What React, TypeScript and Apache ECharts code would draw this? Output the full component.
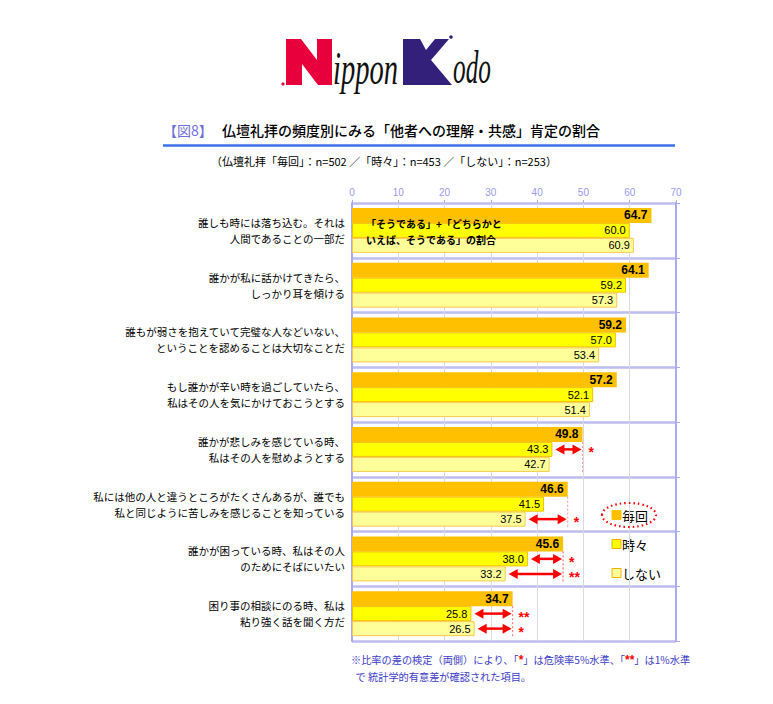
import React, { useEffect, useRef } from "react";
import * as echarts from "echarts";

const categories = [
  "誰しも時には落ち込む。それは\n人間であることの一部だ",
  "誰かが私に話かけてきたら、\nしっかり耳を傾ける",
  "誰もが弱さを抱えていて完璧な人などいない、\nということを認めることは大切なことだ",
  "もし誰かが辛い時を過ごしていたら、\n私はその人を気にかけておこうとする",
  "誰かが悲しみを感じている時、\n私はその人を慰めようとする",
  "私には他の人と違うところがたくさんあるが、誰でも\n私と同じように苦しみを感じることを知っている",
  "誰かが困っている時、私はその人\nのためにそばにいたい",
  "困り事の相談にのる時、私は\n粘り強く話を聞く方だ",
];
const seriesNames = ["毎回", "時々", "しない"];
const maikai = [64.7, 64.1, 59.2, 57.2, 49.8, 46.6, 45.6, 34.7];
const tokidoki = [60.0, 59.2, 57.0, 52.1, 43.3, 41.5, 38.0, 25.8];
const shinai = [60.9, 57.3, 53.4, 51.4, 42.7, 37.5, 33.2, 26.5];
// significance: [category index, compared series (1 = 時々, 2 = しない), number of stars]
const sigTests = [
  [4, 1, 1],
  [5, 2, 1],
  [6, 1, 1],
  [6, 2, 2],
  [7, 1, 2],
  [7, 2, 1],
];

const JP = "'Noto Sans CJK JP', 'Noto Sans', sans-serif";
const NUM = "'Liberation Sans', Arial, sans-serif";
const BAR_W = 15;
const COLORS = ["#FFC000", "#FFFF00", "#FFFF99"];
const BORDERS = ["#FFC000", "#F5C000", "#F8C850"];

export default function App() {
  const ref = useRef<HTMLDivElement>(null);
  useEffect(() => {
    if (!ref.current) return;
    const chart = echarts.init(ref.current, null, { renderer: "svg" });
    const lists = [maikai, tokidoki, shinai];

    const barSeries = seriesNames.map((name, i) => ({
      type: "bar",
      name,
      data: lists[i],
      barWidth: BAR_W,
      barGap: "0%",
      itemStyle: { color: COLORS[i], borderColor: BORDERS[i], borderWidth: i === 0 ? 0 : 1 },
      label: {
        show: true,
        position: "insideRight",
        distance: 4,
        formatter: (p: any) => Number(p.value).toFixed(1),
        color: "#000",
        fontFamily: NUM,
        fontSize: i === 0 ? 12 : 11,
        fontWeight: i === 0 ? "bold" : "normal",
      },
      z: 2,
    }));

    const sigData = sigTests.map(([cat, s, n]) => [
      maikai[cat],
      cat,
      (s === 1 ? tokidoki : shinai)[cat],
      s,
      n,
    ]);

    const arrowSeries = {
      type: "custom",
      name: "sig",
      coordinateSystem: "cartesian2d",
      encode: { x: 0, y: 1 },
      z: 10,
      data: sigData,
      renderItem: (params: any, api: any) => {
        const to = api.value(0);
        const cat = api.value(1);
        const from = api.value(2);
        const s = api.value(3);
        const n = api.value(4);
        const c = api.coord([to, cat]);
        const f = api.coord([from, cat]);
        const y = c[1] + (s - 1) * BAR_W;
        const x1 = f[0] + 3;
        const x2 = c[0] - 1;
        const red = "#FF0000";
        return {
          type: "group",
          children: [
            {
              type: "line",
              shape: { x1: c[0], y1: c[1] - BAR_W / 2, x2: c[0], y2: c[1] + BAR_W * 1.5 },
              style: { stroke: "#FF7777", lineWidth: 0.8, lineDash: [2, 2] },
            },
            {
              type: "line",
              shape: { x1: x1 + 6, y1: y, x2: x2 - 6, y2: y },
              style: { stroke: red, lineWidth: 2.5 },
            },
            {
              type: "polygon",
              shape: { points: [[x1, y], [x1 + 9, y - 5], [x1 + 9, y + 5]] },
              style: { fill: red },
            },
            {
              type: "polygon",
              shape: { points: [[x2, y], [x2 - 9, y - 5], [x2 - 9, y + 5]] },
              style: { fill: red },
            },
            {
              type: "text",
              style: {
                text: n === 2 ? "**" : "*",
                x: c[0] + 6,
                y: y + 3,
                fill: red,
                font: "bold 14px " + NUM,
                lineHeight: 11,
                align: "left",
                verticalAlign: "middle",
              },
            },
          ],
        };
      },
    };

    const legendItems = seriesNames.map((name, i) => ({
      type: "group",
      z: 100,
      children: [
        {
          type: "rect",
          shape: { x: 612, y: 510.5 + i * 29, width: 9, height: 9 },
          style: { fill: COLORS[i], stroke: i === 0 ? COLORS[0] : "#F0B000", lineWidth: 1 },
        },
        {
          type: "text",
          style: {
            text: name,
            x: 622,
            y: 515 + i * 29,
            font: "13px " + JP,
            fill: "#000",
            align: "left",
            verticalAlign: "middle",
          },
        },
      ],
    }));

    const option: any = {
      animation: false,
      backgroundColor: "#fff",
      grid: { left: 352, top: 203, right: 97, bottom: 63, containLabel: false },
      xAxis: {
        type: "value",
        position: "top",
        min: 0,
        max: 70,
        interval: 10,
        axisLine: { show: false },
        axisTick: { show: true, length: 3, lineStyle: { color: "#AAAAEE" } },
        axisLabel: { color: "#9999EE", fontSize: 10, fontFamily: NUM, margin: 6 },
        splitLine: { show: true, lineStyle: { color: "#DADADA", width: 1 } },
      },
      yAxis: [
        {
          type: "category",
          data: categories,
          inverse: true,
          axisLine: { show: true, lineStyle: { color: "#AAAAEE", width: 2 } },
          axisTick: { show: false },
          axisLabel: {
            color: "#000",
            fontSize: 10.5,
            fontFamily: JP,
            lineHeight: 16,
            margin: 7,
            align: "right",
          },
          splitLine: { show: true, lineStyle: { color: "#BDBDF0", width: 2.5 } },
        },
        {
          type: "category",
          data: categories,
          inverse: true,
          position: "right",
          axisLine: { show: true, lineStyle: { color: "#AAAAEE", width: 2 } },
          axisTick: { show: true, length: 4, inside: false, lineStyle: { color: "#AAAAEE" } },
          axisLabel: { show: false },
          splitLine: { show: false },
        },
      ],
      series: [...barSeries, arrowSeries],
      graphic: [
        // logo
        {
          type: "polygon",
          z: 100,
          shape: {
            points: [
              [286, 39], [301, 39], [317, 60], [317, 39], [332, 39], [332, 85],
              [318, 85], [302, 64], [302, 85], [286, 85],
            ],
          },
          style: { fill: "#E8003C" },
        },
        { type: "circle", z: 100, shape: { cx: 283, cy: 84, r: 1.6 }, style: { fill: "#E8003C" } },
        {
          type: "text",
          z: 100,
          x: 333,
          y: 68,
          scaleX: 0.62,
          style: {
            text: "ippon",
            font: "italic 46px 'Liberation Serif', 'DejaVu Serif', serif",
            fill: "#111",
            align: "left",
            verticalAlign: "middle",
          },
        },
        {
          type: "polygon",
          z: 100,
          shape: {
            points: [
              [403, 39], [420, 39], [426, 50], [435, 39], [449, 39], [431, 60],
              [452, 85], [403, 85],
            ],
          },
          style: { fill: "#33207A" },
        },
        { type: "circle", z: 100, shape: { cx: 451, cy: 37, r: 1.8 }, style: { fill: "#33207A" } },
        {
          type: "text",
          z: 100,
          x: 453,
          y: 68,
          scaleX: 0.55,
          style: {
            text: "odo",
            font: "italic 46px 'Liberation Serif', 'DejaVu Serif', serif",
            fill: "#111",
            align: "left",
            verticalAlign: "middle",
          },
        },
        // title
        {
          type: "text",
          z: 100,
          style: {
            text: "【図8】",
            x: 163,
            y: 130,
            font: "14px " + JP,
            fill: "#6F6FD8",
            align: "left",
            verticalAlign: "middle",
          },
        },
        {
          type: "text",
          z: 100,
          style: {
            text: "仏壇礼拝の頻度別にみる「他者への理解・共感」肯定の割合",
            x: 222,
            y: 130,
            font: "500 14px " + JP,
            fill: "#000",
            align: "left",
            verticalAlign: "middle",
          },
        },
        {
          type: "line",
          z: 100,
          shape: { x1: 163, y1: 145.5, x2: 675, y2: 145.5 },
          style: { stroke: "#3C6FE8", lineWidth: 2.5 },
        },
        {
          type: "text",
          z: 100,
          style: {
            text: "（仏壇礼拝「毎回」：n=502 ／「時々」：n=453 ／「しない」：n=253）",
            x: 384,
            y: 161,
            font: "11px " + JP,
            fill: "#000",
            align: "center",
            verticalAlign: "middle",
          },
        },
        // note box in first group
        {
          type: "text",
          z: 100,
          style: {
            text: "「そうである」+「どちらかと\nいえば、そうである」の割合",
            x: 366,
            y: 231,
            font: "bold 10px " + JP,
            lineHeight: 16,
            fill: "#000",
            align: "left",
            verticalAlign: "middle",
          },
        },
        ...legendItems,
        // legend ellipse
        {
          type: "ellipse",
          z: 100,
          shape: { cx: 629, cy: 515, rx: 27, ry: 12 },
          style: { fill: "none", stroke: "#FF0000", lineWidth: 2.2, lineDash: [1.5, 3] },
        },
        // footnote
        {
          type: "text",
          z: 100,
          style: {
            text:
              "{b|※比率の差の検定（両側）により、「}{r|*}{b|」は危険率5%水準、「}{r|**}{b|」は1%水準}\n{b|  で 統計学的有意差が確認された項目。}",
            x: 351,
            y: 668,
            align: "left",
            verticalAlign: "middle",
            rich: {
              b: { font: "10.2px " + JP, fill: "#3C3CC8", lineHeight: 17 },
              r: { font: "bold 12px " + NUM, fill: "#FF0000", lineHeight: 17 },
            },
          },
        },
      ],
    };
    chart.setOption(option);
    return () => chart.dispose();
  }, []);
  return (
    <div
      ref={ref}
      style={{ position: "absolute", left: 0, top: 0, width: 773, height: 704, background: "#fff" }}
    />
  );
}
